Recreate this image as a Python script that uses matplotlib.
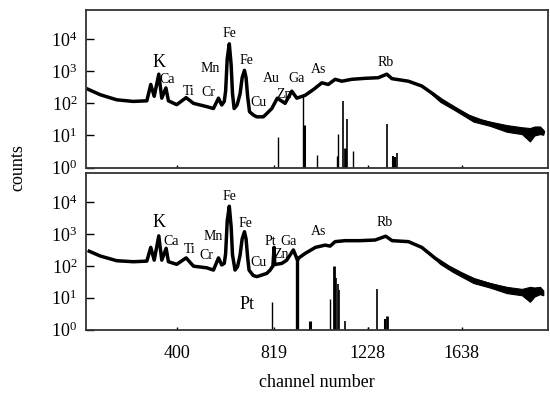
import matplotlib
matplotlib.use("Agg")
import numpy as np
import matplotlib.pyplot as plt
from matplotlib.ticker import FixedLocator, LogFormatterMathtext, NullLocator

plt.rcParams["font.family"] = ["Liberation Serif", "DejaVu Serif"]
plt.rcParams["mathtext.fontset"] = "stix"

# ----------------------------
# Data
# ----------------------------
top_channel = [11, 64, 136, 207, 267, 284, 299, 319, 332, 350, 361, 397, 438, 470,
               528, 557, 579, 593, 604, 610, 617, 626, 634, 640, 647, 660, 673, 682,
               692, 699, 706, 714, 731, 746, 774, 789, 811, 835, 869, 898, 920, 956,
               992, 1029, 1057, 1087, 1116, 1159, 1217, 1275, 1312, 1334, 1406, 1464,
               1508, 1551, 1609, 1667, 1725, 1783, 1841, 1899, 1935, 1957, 1993]
top_counts = [275, 186, 129, 115, 120, 389, 166, 813, 145, 302, 120, 91, 151, 100,
              79, 69, 145, 89, 115, 240, 2500, 7200, 1600, 200, 69, 89, 200, 630,
              1070, 630, 160, 55, 43, 38, 38, 48, 69, 145, 100, 240, 145, 178,
              269, 437, 389, 562, 490, 562, 603, 631, 813, 589, 490, 347,
              209, 125, 70, 40, 28, 21, 16, 14, 9, 14, 12.6]

bot_channel = [16, 64, 136, 209, 267, 284, 299, 319, 332, 351, 361, 397, 438, 470,
               528, 557, 579, 593, 604, 610, 617, 626, 634, 640, 651, 662, 673, 682,
               692, 699, 706, 712, 730, 746, 789, 804, 816, 821, 824, 855, 876, 905,
               923, 927, 956, 1001, 1043, 1065, 1087, 1130, 1195, 1261, 1307, 1335,
               1406, 1464, 1522, 1580, 1638, 1696, 1769, 1841, 1914, 1935, 1972, 1987]
bot_counts = [288, 204, 145, 135, 141, 380, 151, 871, 151, 355, 135, 112, 178, 98,
              87, 74, 178, 107, 120, 240, 2600, 7400, 1700, 220, 74, 95, 220, 700,
              1175, 700, 180, 74, 50, 46, 58, 74, 100, 380, 110, 120, 151, 316,
              151, 174, 245, 380, 447, 417, 575, 617, 617, 646, 851, 617,
              575, 380, 174, 93, 56, 35, 25, 18, 15, 9.5, 18, 14]

# noisy tail: lower / upper edge of the trace
tail_channel = [1480, 1544, 1600, 1689, 1760, 1834, 1900, 1935, 1955, 1979, 1993]
top_tail_low = [290, 112, 66, 27, 20, 13, 11, 6.5, 10, 11, 10.5]
top_tail_high = [310, 135, 80, 36, 27, 21, 18, 17, 19, 19, 15]
bot_tail_low = [310, 115, 64, 29, 21, 14, 12, 7.5, 11, 13, 12]
bot_tail_high = [330, 140, 80, 42, 29, 22, 19, 22, 21, 22, 17]

# vertical line markers (channel, height, width)
top_bar_ch = [836, 949, 952, 1010, 1094, 1101, 1123, 1130, 1138, 1166, 1312, 1340, 1348, 1357]
top_bar_h = [8.7, 166, 21, 2.4, 2.3, 10.7, 120, 4.2, 32, 3.3, 22, 2.3, 2.1, 2.9]
top_bar_w = [1.0, 1.0, 2.2, 1.0, 1.0, 1.0, 1.2, 2.0, 1.2, 1.0, 1.2, 1.5, 1.5, 1.2]

bot_bar_ch = [811, 920, 978, 1065, 1084, 1090, 1101, 1105, 1130, 1232, 1271, 1304, 1312]
bot_bar_h = [7.6, 204, 1.9, 9.5, 98, 42, 28, 17, 1.9, 1.2, 19.5, 2.2, 2.75]
bot_bar_w = [1.0, 2.4, 2.2, 1.0, 2.0, 1.2, 1.2, 1.2, 1.2, 1.0, 1.2, 1.5, 2.0]

# element labels: (text, channel, counts, fontsize)
top_labels = [("K", 319, 1860, 13), ("Ca", 357, 540, 10), ("Ti", 450, 240, 10),
              ("Cr", 535, 225, 10), ("Mn", 545, 1230, 10), ("Fe", 627, 15000, 10),
              ("Fe", 699, 2140, 10), ("Cu", 752, 110, 10), ("Au", 810, 600, 10),
              ("Zn", 864, 186, 10), ("Ga", 917, 600, 10), ("As", 1014, 1100, 10),
              ("Rb", 1308, 1900, 10)]
bot_labels = [("K", 319, 2290, 13), ("Ca", 372, 575, 10), ("Ti", 452, 316, 10),
              ("Cr", 525, 210, 10), ("Mn", 557, 810, 10), ("Fe", 626, 14800, 10),
              ("Fe", 695, 2140, 10), ("Cu", 752, 126, 10), ("Pt", 806, 575, 10),
              ("Zn", 850, 220, 10), ("Ga", 886, 575, 10), ("As", 1014, 1230, 10),
              ("Rb", 1304, 2290, 10), ("Pt", 702, 6.3, 13)]

x_ticks = [400, 819, 1228, 1638]
y_ticks = [1, 10, 100, 1000, 10000]


def style_axis(ax, show_x):
    ax.set_yscale("log")
    ax.set_xlim(0, 2014)
    ax.set_ylim(1.0, 8.2e4)
    ax.yaxis.set_major_locator(FixedLocator(y_ticks))
    ax.yaxis.set_minor_locator(NullLocator())
    ax.yaxis.set_major_formatter(LogFormatterMathtext())
    ax.xaxis.set_major_locator(FixedLocator(x_ticks))
    ax.tick_params(axis="y", direction="in", length=6, width=1, pad=6, labelsize=13)
    ax.tick_params(axis="x", direction="in", length=2, width=1, pad=11, labelsize=13,
                   labelbottom=show_x)
    for s in ax.spines.values():
        s.set_linewidth(1.3)
        s.set_color("#333333")


def draw_panel(ax, ch, counts, low, high, bar_ch, bar_h, bar_w, labels, show_x):
    ax.plot(ch, counts, color="black", lw=2.5, solid_joinstyle="round")
    ax.fill_between(tail_channel, low, high, color="black", lw=0.8, edgecolor="black")
    ax.vlines(bar_ch, 0.5, bar_h, colors="black", linewidths=bar_w)
    for txt, x, y, fs in labels:
        ax.text(x, y, txt, fontsize=fs, ha="center", va="center")
    style_axis(ax, show_x)


fig = plt.figure(figsize=(5.5, 3.96), dpi=100)
ax_top = fig.add_axes([0.1555, 0.577, 0.841, 0.398])
ax_bot = fig.add_axes([0.1555, 0.1674, 0.841, 0.396])

draw_panel(ax_top, top_channel, top_counts, top_tail_low, top_tail_high,
           top_bar_ch, top_bar_h, top_bar_w, top_labels, False)
draw_panel(ax_bot, bot_channel, bot_counts, bot_tail_low, bot_tail_high,
           bot_bar_ch, bot_bar_h, bot_bar_w, bot_labels, True)

fig.text(0.033, 0.576, "counts", rotation=90, fontsize=13, ha="center", va="center")
fig.text(0.577, 0.035, "channel number", fontsize=13, ha="center", va="center")

fig.savefig("out.png", dpi=100)
